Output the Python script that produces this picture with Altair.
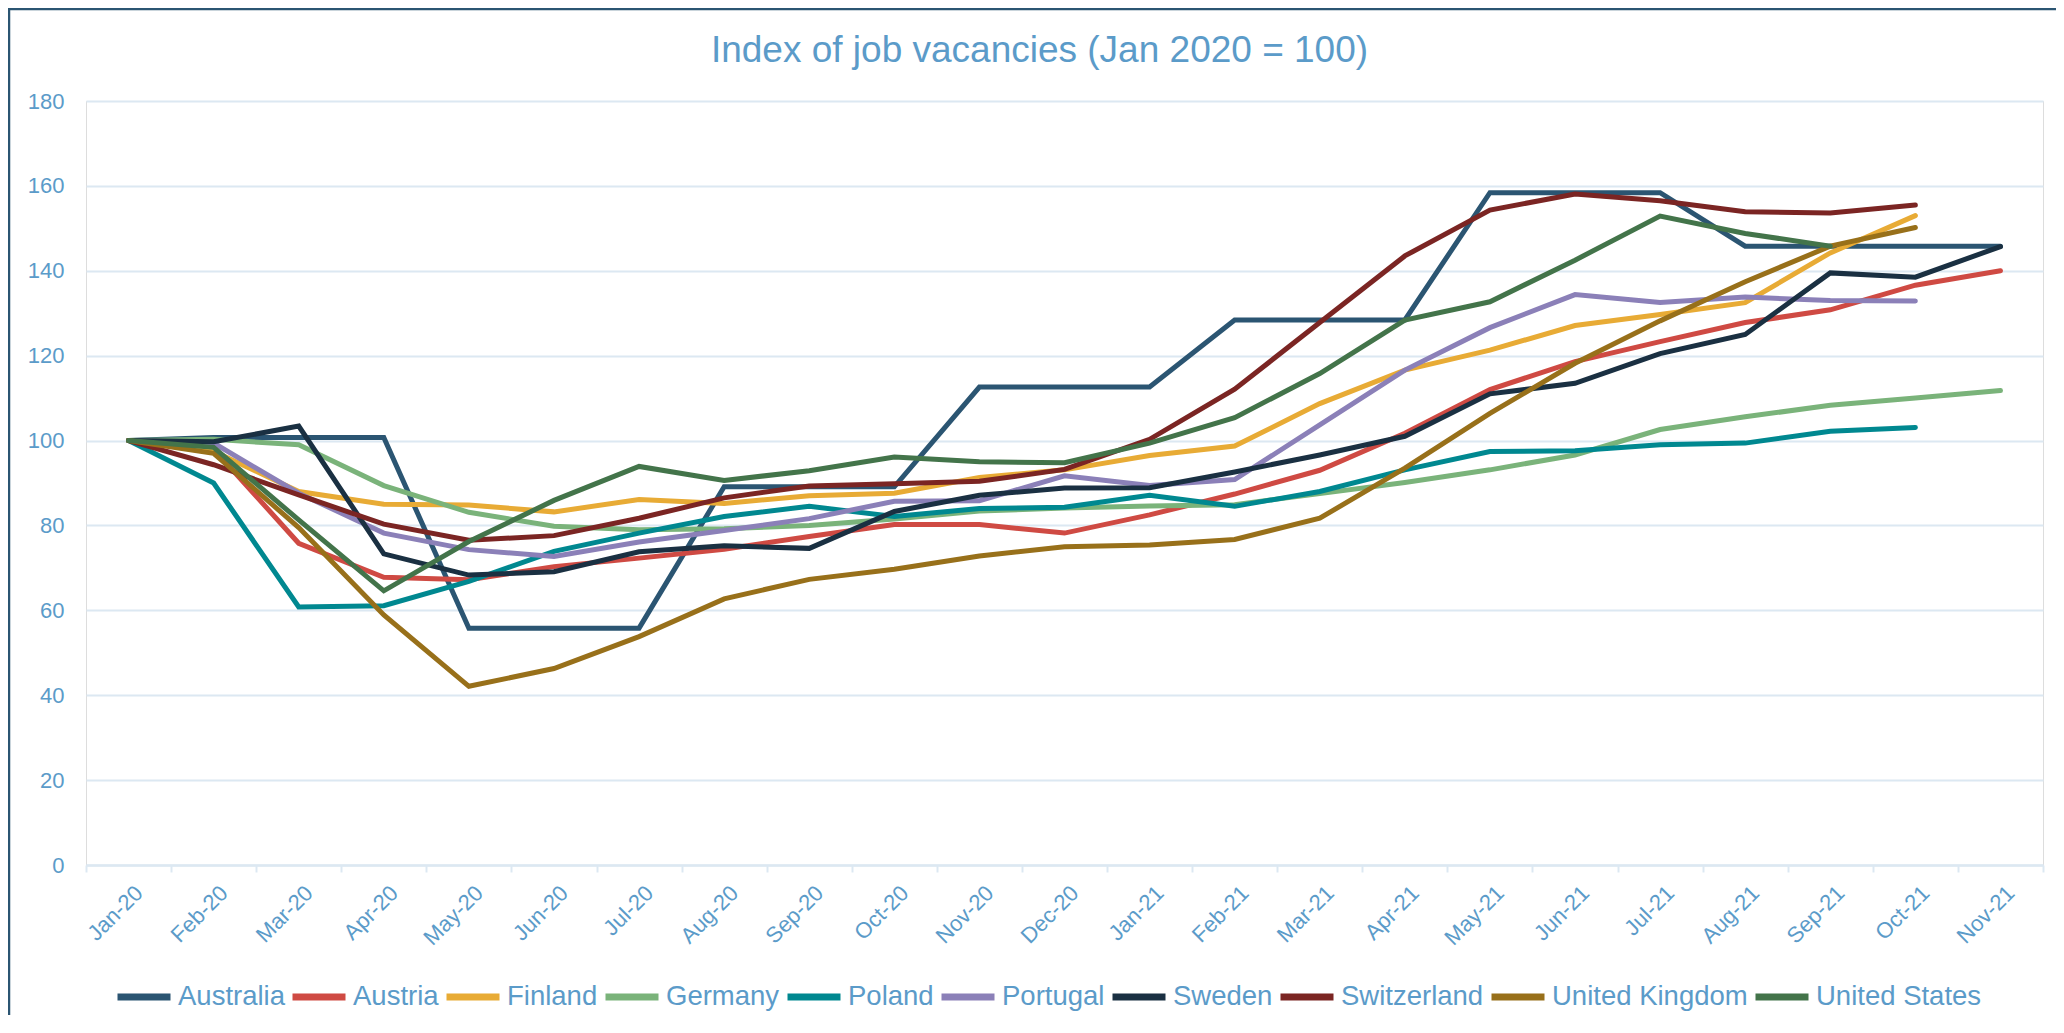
import altair as alt
import pandas as pd

months = ["Jan-20","Feb-20","Mar-20","Apr-20","May-20","Jun-20","Jul-20","Aug-20","Sep-20","Oct-20","Nov-20","Dec-20",
          "Jan-21","Feb-21","Mar-21","Apr-21","May-21","Jun-21","Jul-21","Aug-21","Sep-21","Oct-21","Nov-21"]

australia = [100, 100.7, 100.7, 100.7, 55.8, 55.8, 55.8, 89.1, 89.1, 89.1, 112.6, 112.6, 112.6, 128.4, 128.4, 128.4, 158.4, 158.4, 158.4, 145.8, 145.8, 145.8, 145.8]
austria = [100, 98, 75.8, 67.8, 67.2, 70.3, 72.3, 74.4, 77.4, 80.2, 80.2, 78.2, 82.5, 87.4, 93, 101.7, 112, 118.6, 123.3, 127.8, 130.8, 136.6, 140]
finland = [100, 97.5, 88, 85, 84.8, 83.2, 86.1, 85.2, 87, 87.6, 91.3, 93.1, 96.5, 98.7, 108.7, 116.6, 121.3, 127.1, 129.7, 132.5, 144.2, 153, None]
germany = [100, 100.3, 99, 89.4, 83.1, 79.8, 79, 79.2, 80, 81.5, 83.4, 84.1, 84.6, 84.9, 87.5, 90.1, 93.1, 96.6, 102.6, 105.6, 108.3, 110, 111.8]
poland = [100, 90, 60.8, 61.1, 66.8, 73.9, 78.2, 82.1, 84.5, 82.1, 84, 84.3, 87.1, 84.5, 88, 93.1, 97.4, 97.6, 99, 99.4, 102.2, 103.1, None]
portugal = [100, 99.4, 87.6, 78.2, 74.3, 72.7, 76.1, 78.8, 81.6, 85.7, 85.8, 91.7, 89.4, 90.8, 103.7, 116.6, 126.6, 134.4, 132.5, 133.8, 133, 132.9, None]
sweden = [100, 99.7, 103.4, 73.3, 68.3, 69.1, 73.8, 75.2, 74.6, 83.3, 87.1, 88.8, 88.9, 92.6, 96.6, 101, 111, 113.5, 120.5, 125, 139.5, 138.5, 145.7]
switzerland = [100, 94.3, 87.2, 80.3, 76.5, 77.6, 81.7, 86.5, 89.3, 89.8, 90.4, 93.2, 100.3, 112.1, 127.8, 143.5, 154.3, 158.1, 156.5, 153.9, 153.6, 155.5, None]
united_kingdom = [100, 97, 79.5, 58.9, 42.1, 46.3, 53.8, 62.7, 67.3, 69.7, 72.8, 75, 75.4, 76.7, 81.7, 93.5, 106.4, 118.2, 128.2, 137.4, 145.8, 150.2, None]
united_states = [100, 98.4, 81.3, 64.6, 76.2, 85.9, 93.9, 90.6, 92.9, 96.1, 95, 94.8, 99.4, 105.4, 115.8, 128.4, 132.7, 142.5, 152.9, 148.8, 145.8, None, None]

countries = ["Australia", "Austria", "Finland", "Germany", "Poland", "Portugal", "Sweden", "Switzerland", "United Kingdom", "United States"]
series = [australia, austria, finland, germany, poland, portugal, sweden, switzerland, united_kingdom, united_states]
colors = ["#2b5572", "#cf4a43", "#e8ab35", "#7ab37a", "#008890", "#8b80b8", "#1a3042", "#7b2523", "#98701a", "#43744a"]
y_ticks = [0, 20, 40, 60, 80, 100, 120, 140, 160, 180]

rows = []
for c, vals in zip(countries, series):
    for m, v in zip(months, vals):
        if v is not None:
            rows.append({"Month": m, "Country": c, "Index": v})
df = pd.DataFrame(rows)

TXT = "#5b9bc9"
GRID = "#dce8f2"
FONT = "Liberation Sans"
W, H = 1957, 764

lines = alt.Chart(df).mark_line(strokeWidth=5, strokeJoin="miter", strokeCap="round").encode(
    x=alt.X("Month:N", sort=months, bandPosition=0.5,
            scale=alt.Scale(type="band", domain=months, paddingInner=0, paddingOuter=0),
            axis=alt.Axis(title=None, labelAngle=-45, labelFontSize=22, labelColor=TXT, labelFont=FONT,
                          tickBand="extent", ticks=True, tickSize=7, tickColor=GRID, tickWidth=2,
                          domain=True, domainColor=GRID, domainWidth=2.5, grid=False,
                          labelPadding=10, labelOffset=3)),
    y=alt.Y("Index:Q", scale=alt.Scale(domain=[0, 180], nice=False),
            axis=alt.Axis(title=None, values=y_ticks, labelFontSize=22, labelColor=TXT, labelFont=FONT,
                          domain=False, ticks=False, labelPadding=22, grid=True, gridColor=GRID, gridWidth=2)),
    color=alt.Color("Country:N", sort=countries,
                    scale=alt.Scale(domain=countries, range=colors),
                    legend=alt.Legend(title=None, orient="none", direction="horizontal", columns=10,
                                      legendX=28, legendY=866, symbolType="stroke", symbolSize=2809,
                                      symbolStrokeWidth=7, labelFontSize=27.5, labelColor=TXT, labelFont=FONT,
                                      labelOffset=4, columnPadding=-7, padding=0, labelLimit=400)),
)

frame_df = pd.DataFrame({"k": [0]})
frame = alt.Chart(frame_df).mark_rect(filled=False, stroke="#2b5572", strokeWidth=2.5, clip=False).encode(
    x=alt.value(-77), x2=alt.value(W + 60), y=alt.value(-92), y2=alt.value(H + 400)
)

chart = alt.layer(frame, lines).properties(
    width=W, height=H,
    padding={"left": 78, "top": 93, "right": 13, "bottom": 150},
    autosize=alt.AutoSizeParams(type="none"),
    title=alt.TitleParams("Index of job vacancies (Jan 2020 = 100)", fontSize=37, font=FONT, fontWeight="normal",
                          color=TXT, anchor="middle", frame="group", offset=0, baseline="alphabetic",
                          dx=-25, dy=91),
).configure_view(stroke=None).configure(background="white")

chart.save("out.html", embed_options={"renderer": "svg", "actions": False})
